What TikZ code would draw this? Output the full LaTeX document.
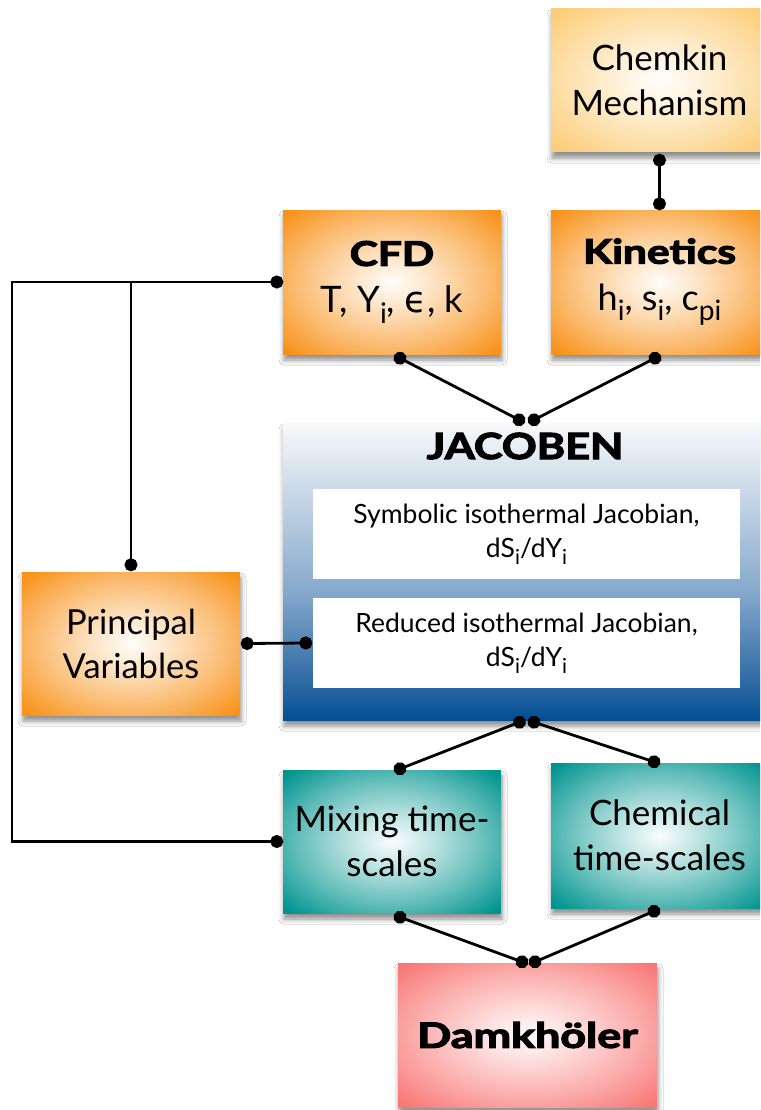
\documentclass[tikz,border=0pt]{standalone}
\usepackage{fontspec}
\setmainfont{Lato}
\newfontfamily\heavy{Lato}[BoldFeatures={FakeBold=3}]
\newfontfamily\greekfont{DejaVu Sans}
\usetikzlibrary{arrows.meta,shadows.blur}

% palette
\definecolor{orangeC}{RGB}{248,146,26}
\definecolor{sandC}{RGB}{252,204,118}
\definecolor{tealC}{RGB}{0,148,143}
\definecolor{roseC}{RGB}{248,120,118}
\definecolor{jacBot}{RGB}{2,78,148}
\definecolor{jacLow}{RGB}{38,100,160}
\definecolor{jacMid}{RGB}{135,170,205}
\definecolor{jacTop}{RGB}{248,249,251}

% radial glow: pale centre, saturated corners
\newcommand\makeglow[2]{%
  \pgfdeclareradialshading{#1}{\pgfpoint{0bp}{0bp}}{%
    color(0bp)=(#2!2!white); color(9bp)=(#2!25!white);
    color(22bp)=(#2!62!white); color(34bp)=(#2); color(50bp)=(#2)}}
\makeglow{glowOrange}{orangeC}
\makeglow{glowSand}{sandC}
\makeglow{glowTeal}{tealC}
\makeglow{glowRose}{roseC}

% JACOBEN panel: white at the top, deep blue at the bottom
\pgfdeclareverticalshading{jacobShade}{100bp}{%
  color(0bp)=(jacBot); color(25bp)=(jacBot); color(30bp)=(jacLow);
  color(47bp)=(jacMid); color(75bp)=(jacTop); color(100bp)=(jacTop)}

% lowered subscript in text
\newcommand\sbs[1]{\raisebox{-0.55ex}{\scalebox{0.78}{#1}}}
% horizontally widened heading
\newcommand\wide[2]{\scalebox{#1}[1]{#2}}

\begin{document}
\begin{tikzpicture}[x=1pt,y=-1pt,
  box/.style={rectangle, inner sep=0pt, align=center, text=black,
    blur shadow={shadow xshift=1pt, shadow yshift=-6pt,
      shadow blur radius=5pt, shadow opacity=45}},
  orangebox/.style={box, shading=glowOrange},
  sandbox/.style={box, shading=glowSand},
  tealbox/.style={box, shading=glowTeal},
  rosebox/.style={box, shading=glowRose},
  panel/.style={box, shading=jacobShade},
  inset/.style={rectangle, fill=white, inner sep=0pt, align=center,
    minimum width=427pt, minimum height=90pt,
    font=\fontsize{26.5}{34}\selectfont},
  link/.style={line width=2.8pt, draw=black,
    {Circle[length=13pt]}-{Circle[length=13pt]},
    shorten <=-6.5pt, shorten >=-6.5pt},
  halflink/.style={line width=2.8pt, draw=black,
    -{Circle[length=13pt]}, shorten >=-6.5pt},
]
\useasboundingbox (0,0) rectangle (760,1110);
\fill[white] (0,0) rectangle (760,1110);
\clip (0,0) rectangle (760,1110);

% ---- boxes ----
\node[sandbox, minimum width=217pt, minimum height=143pt,
  font=\fontsize{35}{45}\selectfont]
  (chem) at (659.5,80.5) {Chemkin\\Mechanism};

\node[orangebox, minimum width=218pt, minimum height=144pt,
  font=\fontsize{36.5}{47}\selectfont]
  (cfd) at (392,282)
  {{\fontsize{34}{40}\selectfont\heavy\bfseries\wide{1.25}{CFD}}\\
   T, Y\sbs{i}, {\greekfont ϵ}, k};

\node[orangebox, minimum width=217pt, minimum height=144pt,
  font=\fontsize{36}{47}\selectfont]
  (kin) at (659.5,282)
  {{\fontsize{34}{40}\selectfont\heavy\bfseries\wide{1.25}{Kinetics}}\\
   h\sbs{i}, s\sbs{i}, c\sbs{pi}};

\node[panel, minimum width=485pt, minimum height=297pt]
  (jac) at (525.5,571.5) {};
\node[font=\fontsize{36}{40}\selectfont\heavy\bfseries, inner sep=0pt]
  (jactitle) at (525,446) {\wide{1.2}{JACOBEN}};
\node[inset] (in1) at (526.5,534)
  {Symbolic isothermal Jacobian,\\dS\sbs{i}/dY\sbs{i}};
\node[inset] (in2) at (526.5,643)
  {Reduced isothermal Jacobian,\\dS\sbs{i}/dY\sbs{i}};

\node[orangebox, minimum width=218pt, minimum height=143pt,
  font=\fontsize{34.5}{44}\selectfont]
  (pv) at (131,643.5) {Principal\\Variables};

\node[tealbox, minimum width=218pt, minimum height=143pt,
  font=\fontsize{35}{45}\selectfont]
  (mix) at (392,841.5) {Mixing time-\\scales};

\node[tealbox, minimum width=217pt, minimum height=145pt,
  font=\fontsize{35}{45}\selectfont]
  (chm) at (659.5,835.5) {Chemical\\time-scales};

\node[rosebox, minimum width=259pt, minimum height=144pt,
  font=\fontsize{35}{40}\selectfont\heavy\bfseries]
  (dk) at (527.5,1035) {\wide{1.28}{Damkhöler}};

% ---- connector end points ----
\coordinate (chemB) at ([yshift=-8pt]chem.south);
\coordinate (kinT)  at ([yshift=6pt]kin.north);
\coordinate (cfdB)  at ([xshift=8pt,yshift=-4pt]cfd.south);
\coordinate (kinB)  at ([xshift=-4.5pt,yshift=-4pt]kin.south);
\coordinate (jacT1) at ([xshift=-6.5pt,yshift=3pt]jac.north);
\coordinate (jacT2) at ([xshift=8.5pt,yshift=3pt]jac.north);
\coordinate (cfdL)  at ([xshift=-6pt]cfd.west);
\coordinate (rail)  at (12,0);
\coordinate (pvT)   at ([yshift=7pt]pv.north);
\coordinate (pvR)   at ([xshift=7pt]pv.east);
\coordinate (in2L)  at ([xshift=-7pt]in2.west);
\coordinate (jacB1) at ([xshift=-6pt,yshift=-2pt]jac.south);
\coordinate (jacB2) at ([xshift=8.5pt,yshift=-2pt]jac.south);
\coordinate (mixT)  at ([xshift=8pt,yshift=1pt]mix.north);
\coordinate (chmT)  at ([xshift=-5.5pt,yshift=1pt]chm.north);
\coordinate (mixB)  at ([xshift=8pt,yshift=-4pt]mix.south);
\coordinate (chmB)  at ([xshift=-5.5pt,yshift=-3pt]chm.south);
\coordinate (dkT1)  at ([xshift=-5.5pt,yshift=1pt]dk.north);
\coordinate (dkT2)  at ([xshift=7.5pt,yshift=1pt]dk.north);
\coordinate (mixL)  at ([xshift=-6pt]mix.west);

% ---- connectors ----
\draw[link] (chemB) -- (kinT);
\draw[link] (cfdB) -- (jacT1);
\draw[link] (kinB) -- (jacT2);
\draw[link] (cfdL) -- (cfdL -| rail) |- (mixL);
\draw[halflink] (pvT |- cfdL) -- (pvT);
\draw[link] (pvR) -- (in2L);
\draw[link] (jacB1) -- (mixT);
\draw[link] (jacB2) -- (chmT);
\draw[link] (mixB) -- (dkT1);
\draw[link] (chmB) -- (dkT2);
\end{tikzpicture}
\end{document}
